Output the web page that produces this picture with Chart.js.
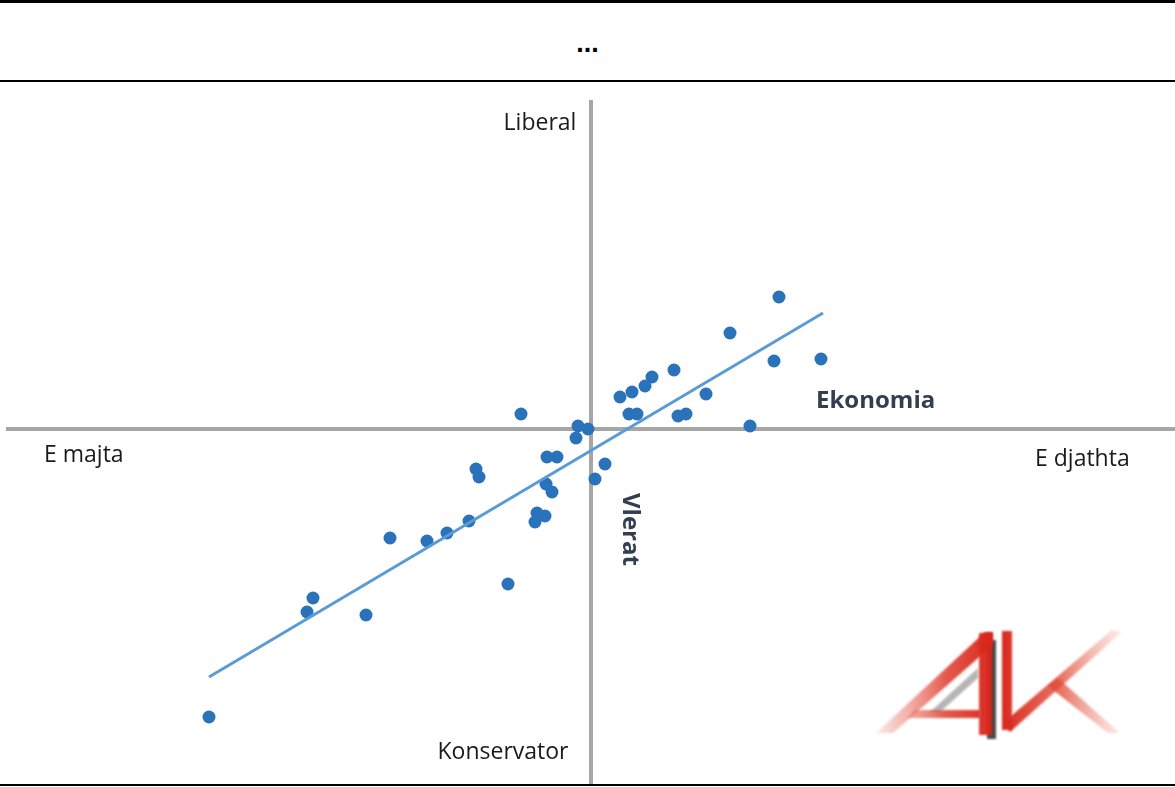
<!DOCTYPE html>
<html>
<head>
<meta charset="utf-8">
<script src="https://cdn.jsdelivr.net/npm/chart.js@4.4.0/dist/chart.umd.min.js"></script>
<style>
  html, body { margin: 0; padding: 0; background: #fff; }
  #wrap { position: relative; width: 1175px; height: 787px; overflow: hidden; }
  #topline { position: absolute; left: 0; top: 0; width: 1175px; height: 3px; background: #000; }
  #title { position: absolute; left: 0; top: 28px; width: 1175px; text-align: center; font: bold 27px "Liberation Sans", Arial, sans-serif; color: #000; }
  #midline { position: absolute; left: 0; top: 80px; width: 1175px; height: 2px; background: #000; }
  #botline { position: absolute; left: 0; top: 784px; width: 1175px; height: 2px; background: #000; }
  canvas { position: absolute; left: 0; top: 0; }
</style>
</head>
<body>
<div id="wrap">
  <div id="topline"></div>
  <div id="title">...</div>
  <div id="midline"></div>
  <canvas id="c" width="1175" height="787"></canvas>
  <div id="botline"></div>
</div>
<script>
// Economy (x: left -> right) vs values (y: conservative -> liberal)
const pointsX = [18.8, 13.9, 18.3, 23.0, 8.3, 6.1, 5.4, 4.1, 2.9, 11.5, 3.8, 4.6, 8.7, 9.5, 15.9,
                 -7.0, -1.3, -0.3, -1.5, -4.4, -3.4, 1.4, 0.4, -11.5, -11.2, -4.5, -3.9,
                 -5.4, -4.6, -5.6, -12.2, -14.4, -16.4, -20.1, -8.3, -27.8, -28.4, -22.5, -38.2];
const pointsY = [13.2, 9.6, 6.8, 7.0, 5.9, 5.2, 4.3, 3.7, 3.2, 3.5, 1.5, 1.5, 1.3, 1.5, 0.3,
                 1.5, 0.3, 0.0, -0.9, -2.8, -2.8, -3.5, -5.0, -4.0, -4.8, -5.5, -6.3,
                 -8.4, -8.7, -9.3, -9.2, -10.4, -11.2, -10.9, -15.5, -16.9, -18.3, -18.6, -28.8];
const trendX = [-38.2, 23.2];
const trendY = [-24.8, 11.6];
const axisHX = [-58.5, 58.4];
const axisVY = [-35.6, 32.9];
const labels = ["Liberal", "Konservator", "E majta", "E djathta", "Ekonomia", "Vlerat"];

const scatterData = pointsX.map((x, i) => ({ x: x, y: pointsY[i] }));
const trendData = trendX.map((x, i) => ({ x: x, y: trendY[i] }));
const hAxisData = axisHX.map(x => ({ x: x, y: 0 }));
const vAxisData = axisVY.map(y => ({ x: 0, y: y }));

const labelPlugin = {
  id: 'labels',
  afterDraw(chart) {
    const ctx = chart.ctx;
    const xs = chart.scales.x, ys = chart.scales.y;
    const ox = xs.getPixelForValue(0), oy = ys.getPixelForValue(0);
    ctx.save();
    ctx.fillStyle = '#1a1a1a';
    ctx.textBaseline = 'middle';
    ctx.font = '23px "Open Sans", "Liberation Sans", sans-serif';
    ctx.textAlign = 'center';
    ctx.fillText(labels[0], ox - 51, 123);
    ctx.fillText(labels[1], ox - 88, 752);
    ctx.textAlign = 'left';
    ctx.fillText(labels[2], 44, oy + 26);
    ctx.fillText(labels[3], 1035, oy + 30);
    ctx.fillStyle = '#333f50';
    ctx.font = 'bold 24px "Open Sans", "Liberation Sans", sans-serif';
    ctx.fillText(labels[4], 816, oy - 28);
    ctx.translate(ox + 39, 493);
    ctx.rotate(Math.PI / 2);
    ctx.textAlign = 'left';
    ctx.fillText(labels[5], 0, 0);
    ctx.restore();

    // logo (decoration)
    ctx.save();
    ctx.filter = 'blur(0.8px)';
    const g = ctx.createLinearGradient(870, 0, 1125, 0);
    g.addColorStop(0, 'rgba(235,120,100,0.1)');
    g.addColorStop(0.3, 'rgba(222,60,45,0.85)');
    g.addColorStop(0.5, 'rgba(215,35,25,1)');
    g.addColorStop(0.75, 'rgba(225,80,60,0.8)');
    g.addColorStop(1, 'rgba(240,150,130,0.15)');
    ctx.fillStyle = 'rgba(40,40,40,0.85)';
    ctx.beginPath();
    ctx.moveTo(987, 640); ctx.lineTo(996, 640); ctx.lineTo(996, 739); ctx.lineTo(987, 739); ctx.closePath(); ctx.fill();
    ctx.fillStyle = 'rgba(90,90,90,0.45)';
    ctx.beginPath();
    ctx.moveTo(930, 712); ctx.lineTo(978, 668); ctx.lineTo(978, 678); ctx.lineTo(940, 712); ctx.closePath(); ctx.fill();
    ctx.fillStyle = g;
    ctx.beginPath();
    ctx.moveTo(876, 733); ctx.lineTo(985, 632); ctx.lineTo(993, 632); ctx.lineTo(993, 645); ctx.lineTo(893, 733); ctx.closePath(); ctx.fill();
    ctx.beginPath();
    ctx.moveTo(979, 633); ctx.lineTo(992, 633); ctx.lineTo(992, 735); ctx.lineTo(979, 735); ctx.closePath(); ctx.fill();
    ctx.beginPath();
    ctx.moveTo(915, 710); ctx.lineTo(980, 710); ctx.lineTo(980, 718); ctx.lineTo(908, 718); ctx.closePath(); ctx.fill();
    ctx.beginPath();
    ctx.moveTo(1002, 631); ctx.lineTo(1012, 631); ctx.lineTo(1012, 730); ctx.lineTo(1002, 730); ctx.closePath(); ctx.fill();
    ctx.beginPath();
    ctx.moveTo(1004, 722); ctx.lineTo(1112, 630); ctx.lineTo(1122, 632); ctx.lineTo(1010, 732); ctx.closePath(); ctx.fill();
    ctx.beginPath();
    ctx.moveTo(1048, 686); ctx.lineTo(1058, 678); ctx.lineTo(1120, 733); ctx.lineTo(1108, 733); ctx.closePath(); ctx.fill();
    ctx.restore();
  }
};

new Chart(document.getElementById('c'), {
  type: 'scatter',
  data: {
    datasets: [
      { data: hAxisData, showLine: true, borderColor: '#a6a6a6', borderWidth: 4, pointRadius: 0, order: 3 },
      { data: vAxisData, showLine: true, borderColor: '#a6a6a6', borderWidth: 4, pointRadius: 0, order: 3 },
      { data: scatterData, backgroundColor: '#2a72ba', borderWidth: 0, pointRadius: 6.5, order: 2 },
      { data: trendData, showLine: true, borderColor: '#5b9bd5', borderWidth: 3, pointRadius: 0, order: 1 }
    ]
  },
  options: {
    responsive: false,
    animation: false,
    layout: { autoPadding: false, padding: { top: 82, bottom: 2, left: 0, right: 0 } },
    plugins: { legend: { display: false }, tooltip: { enabled: false }, title: { display: false } },
    scales: {
      x: { type: 'linear', min: -59.1, max: 58.4, display: false },
      y: { type: 'linear', min: -35.6, max: 34.7, display: false }
    }
  },
  plugins: [labelPlugin]
});
</script>
</body>
</html>
